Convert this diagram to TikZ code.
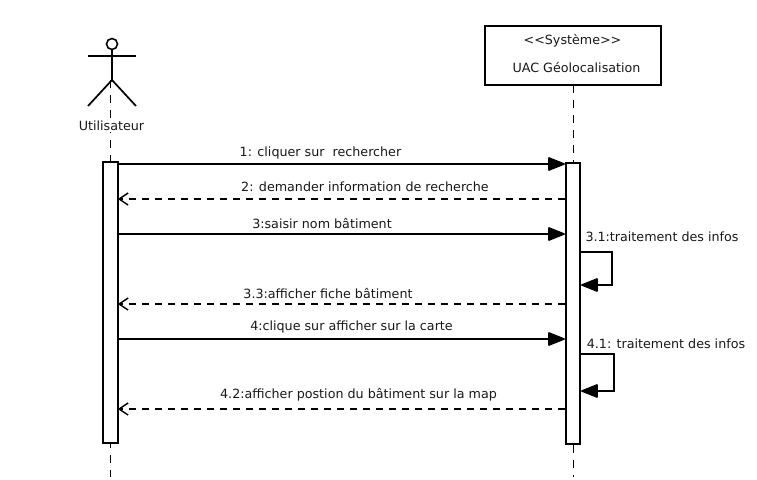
\documentclass[tikz,border=0pt]{standalone}
\usepackage{fontspec}
\setmainfont{DejaVu Sans}
\usetikzlibrary{arrows.meta,calc}
\tikzset{
 x=1pt,y=-1pt,
 solidline/.style={line width=1.5pt,-{Triangle[length=18pt,width=14pt,round=false]}},
 retline/.style={line width=1.4pt,dash pattern=on 7pt off 6pt,shorten >=-1pt,-{Straight Barb[length=9pt,width=12pt,line width=1.4pt]}},
 life/.style={line width=1pt,dash pattern=on 8pt off 7pt},
 bar/.style={draw,line width=1.7pt,fill=white,inner sep=0},
 lab/.style={font=\fontsize{12.7pt}{14pt}\selectfont,inner sep=0,text=black!90},
 limb/.style={line width=1.7pt},
}
\begin{document}
\begin{tikzpicture}
\useasboundingbox (0,0) rectangle (757,479);
\fill[white] (0,0) rectangle (757,479);
% lifelines
\coordinate (lt) at (110.5,80);
\coordinate (lb) at (110.5,477);
\coordinate (rt) at (573,85);
\coordinate (rb) at (573,477);
\draw[life] (lt) -- (lb);
\draw[life] (rt) -- (rb);
% actor
\node[draw,circle,line width=1.6pt,minimum size=11pt,inner sep=0] (head) at (112,44) {};
\coordinate (hip) at (112,80);
\coordinate (armL) at (88,56);
\coordinate (armR) at (136,56);
\coordinate (legL) at (88,106);
\coordinate (legR) at (136,106);
\draw[limb] (head.south) -- (hip);
\draw[limb] (armL) -- (armR);
\draw[limb] (legL) -- (hip) -- (legR);
\node[lab,fill=white,inner ysep=1pt] (actor) at (111.5,125.8) {Utilisateur};
% system box
\node[draw,fill=white,line width=1.7pt,minimum width=176pt,minimum height=59pt,inner sep=0] (sys) at (573,55.5) {};
\node[lab] (s1) at (572.5,41) {<{}<Système>{}>};
\node[lab] (s2) at (576.5,67.5) {UAC Géolocalisation};
% activations
\node[bar,minimum width=15pt,minimum height=281pt] (A) at (110.5,302.75) {};
\node[bar,minimum width=14.5pt,minimum height=281pt] (B) at (573,303.75) {};
% coordinates on activation edges
\foreach \n/\y in {a/164,b/199,c/234,d/304,e/339,f/409}{
 \coordinate (L\n) at (A.east |- 0,\y);
 \coordinate (R\n) at (B.west |- 0,\y);
}
\draw[solidline] (La) -- (Ra);
\draw[retline] (Rb) -- (Lb);
\draw[solidline] (Lc) -- (Rc);
\draw[retline] (Rd) -- (Ld);
\draw[solidline] (Le) -- (Re);
\draw[retline] (Rf) -- (Lf);
% self messages
\coordinate (s1a) at (B.east |- 0,252);
\coordinate (s1b) at (B.east |- 0,285);
\coordinate (s2a) at (B.east |- 0,354);
\coordinate (s2b) at (B.east |- 0,391);
\draw[solidline] (s1a) -- (612,252) -- (612,285) -- (s1b);
\draw[solidline] (s2a) -- (614,354) -- (614,391) -- (s2b);
% labels
\node[lab] (m1) at (320.5,153) {1: cliquer sur\ \ rechercher};
\node[lab] (m2) at (365,187) {2: demander information de recherche};
\node[lab] (m3) at (322,224) {3:saisir nom bâtiment};
\node[lab] (m4) at (662,236.5) {3.1:traitement des infos};
\node[lab] (m5) at (328,294) {3.3:afficher fiche bâtiment};
\node[lab] (m6) at (351.5,326.5) {4:clique sur afficher sur la carte};
\node[lab] (m7) at (666,344) {4.1: traitement des infos};
\node[lab] (m8) at (358.5,394.5) {4.2:afficher postion du bâtiment sur la map};
\end{tikzpicture}
\end{document}
